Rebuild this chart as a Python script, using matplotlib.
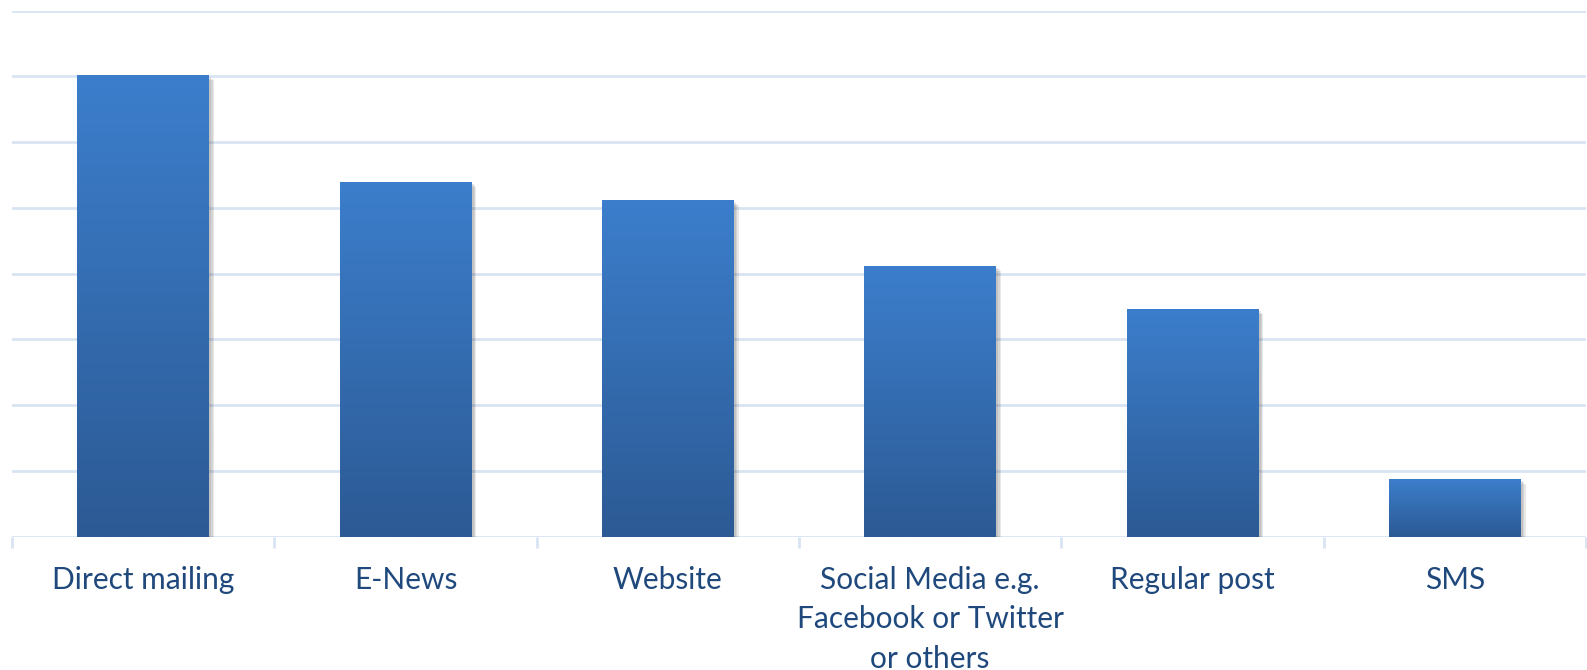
import numpy as np
import matplotlib
matplotlib.use("Agg")
import matplotlib.pyplot as plt
import matplotlib.patheffects as pe
from matplotlib.colors import LinearSegmentedColormap

categories = ["Direct mailing", "E-News", "Website",
              "Social Media e.g.\nFacebook or Twitter\nor others",
              "Regular post", "SMS"]
values = [35.1, 27.0, 25.6, 20.6, 17.3, 4.4]

GRID = "#D9E4F3"
TEXT = "#1F487C"
cmap = LinearSegmentedColormap.from_list("barfill", ["#2C5A94", "#3C7ECC"])

fig = plt.figure(figsize=(15.87, 6.70), dpi=100)
ax = fig.add_axes([12/1587, 133.3/670, 1574/1587, (536.7-10.7)/670])

x = np.arange(len(categories))

for yv in np.arange(0, 41, 5):
    ax.axhline(yv, color=GRID, lw=2, zorder=1)

# soft drop shadow: a few stacked translucent layers
shadow = [pe.SimplePatchShadow(offset=(o, -o), shadow_rgbFace="#444444", alpha=0.12)
          for o in (1.5, 2.5, 3.5)]
bars = ax.bar(x, values, width=0.503, color="#3572B8", zorder=2,
              path_effects=shadow + [pe.Normal()])

grad = np.linspace(1, 0, 256).reshape(-1, 1)
for b in bars:
    im = ax.imshow(grad, cmap=cmap, aspect="auto", zorder=3,
                   extent=[b.get_x(), b.get_x() + b.get_width(), 0, b.get_height()])
    im.set_clip_path(b)

ax.set_xlim(-0.5, len(categories) - 0.5)
ax.set_ylim(0, 40)

for s in ax.spines.values():
    s.set_visible(False)
ax.set_yticks([])
ax.set_xticks(x)
ax.set_xticklabels(categories, fontsize=21.5, color=TEXT, family="Lato", linespacing=1.5)
ax.set_xticks(np.arange(-0.5, len(categories)), minor=True)
ax.tick_params(axis="x", which="major", length=0, pad=21)
ax.tick_params(axis="x", which="minor", length=8, width=2, color=GRID)

fig.savefig("out.png", dpi=100, facecolor="white")
